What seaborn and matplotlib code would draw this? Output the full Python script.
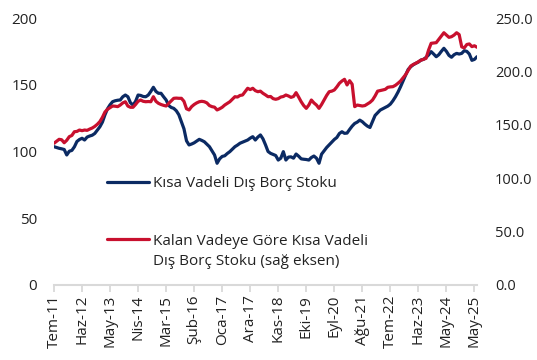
import numpy as np
import pandas as pd
import matplotlib
matplotlib.use("Agg")
import matplotlib.pyplot as plt
from matplotlib.legend_handler import HandlerLine2D
import seaborn as sns

# ---- data (monthly, Tem-11 .. May-25) ----
short_term_stock = [
    103.6, 103.0, 102.4, 102.0, 101.5, 97.4, 100.2, 100.8, 103.5, 107.5,
    109.0, 109.9, 108.6, 110.8, 111.6, 112.2, 113.5, 116.0, 118.5, 122.0,
    127.5, 132.0, 135.0, 137.3, 138.0, 138.4, 138.6, 141.0, 142.3, 141.0,
    136.5, 134.8, 137.5, 142.3, 142.0, 141.2, 141.0, 142.3, 145.0, 148.1,
    145.0, 143.6, 143.6, 141.0, 138.6, 134.5, 133.0, 132.3, 130.5, 127.5,
    122.3, 117.0, 108.0, 104.9, 105.6, 106.5, 107.8, 109.1, 108.3, 107.3,
    105.5, 103.6, 100.5, 97.4, 91.2, 94.5, 96.3, 96.8, 98.5, 99.9,
    101.8, 103.6, 104.8, 106.2, 107.0, 107.8, 108.6, 110.0, 111.1, 108.6,
    110.8, 112.4, 109.5, 105.0, 100.0, 98.6, 97.8, 97.0, 93.6, 95.0,
    99.9, 93.6, 95.8, 96.0, 95.0, 98.1, 96.5, 94.5, 94.2, 94.0,
    93.6, 95.5, 96.6, 95.0, 91.2, 98.0, 100.5, 103.0, 105.0, 107.0,
    109.0, 110.5, 113.5, 114.8, 113.6, 113.8, 116.5, 119.0, 121.0, 122.0,
    123.5, 122.3, 120.5, 119.0, 118.0, 122.5, 127.0, 129.0, 131.0, 132.0,
    133.0, 134.0, 135.5, 138.0, 141.0, 144.5, 148.5, 153.0, 157.3, 161.5,
    163.5, 165.0, 166.1, 167.0, 168.5, 169.0, 170.5, 172.3, 174.8, 173.0,
    171.0, 172.5, 175.0, 177.3, 175.0, 172.0, 170.6, 172.5, 173.5, 173.0,
    173.5, 175.5, 175.0, 173.0, 168.3, 169.0, 171.0,
]
remaining_maturity_stock = [
    132.7, 134.5, 136.4, 136.0, 133.2, 135.5, 138.9, 140.0, 143.5, 143.8,
    145.1, 144.5, 145.1, 144.8, 146.0, 147.0, 148.5, 150.5, 153.0, 157.0,
    162.0, 164.5, 166.0, 167.6, 167.4, 167.0, 168.5, 170.5, 171.6, 167.5,
    166.4, 166.4, 169.0, 172.0, 173.2, 172.0, 171.6, 171.8, 171.6, 176.3,
    172.0, 170.1, 169.0, 168.2, 167.6, 170.0, 172.5, 174.8, 175.0, 174.8,
    174.8, 172.0, 165.0, 163.9, 167.0, 169.0, 170.5, 171.6, 172.0, 171.6,
    170.5, 168.0, 167.0, 166.5, 163.9, 165.0, 166.4, 168.5, 170.0, 171.6,
    174.0, 176.3, 176.0, 177.5, 177.9, 181.0, 184.2, 183.0, 184.2, 182.0,
    181.0, 181.5, 179.5, 178.0, 176.3, 176.5, 174.5, 173.9, 174.5, 176.0,
    176.5, 177.9, 177.0, 175.7, 176.5, 180.1, 176.0, 171.6, 168.0, 165.4,
    168.5, 173.2, 170.5, 168.5, 165.4, 169.0, 173.2, 177.5, 181.0, 181.5,
    182.6, 185.5, 188.9, 191.0, 192.6, 187.3, 191.3, 188.0, 167.0, 168.5,
    168.0, 167.6, 168.0, 169.5, 171.0, 173.2, 177.0, 181.5, 182.0, 182.6,
    183.2, 185.1, 185.5, 185.7, 187.0, 188.9, 191.0, 194.0, 197.0, 201.0,
    205.0, 206.5, 207.6, 209.1, 210.5, 211.3, 212.2, 220.0, 226.3, 226.6,
    226.9, 230.0, 233.1, 236.2, 234.0, 231.9, 232.5, 234.0, 236.2, 234.5,
    223.0, 222.0, 225.2, 225.7, 223.2, 224.0, 222.6,
]
tick_labels = ["Tem-11", "Haz-12", "May-13", "Nis-14", "Mar-15", "Şub-16",
               "Oca-17", "Ara-17", "Kas-18", "Eki-19", "Eyl-20", "Ağu-21",
               "Tem-22", "Haz-23", "May-24", "May-25"]
label_blue = "Kısa Vadeli Dış Borç Stoku"
label_red = "Kalan Vadeye Göre Kısa Vadeli\nDış Borç Stoku (sağ eksen)"

BLUE = "#0B2A63"
RED = "#C8102E"
TXT = "#222222"


class FirstLineHandler(HandlerLine2D):
    """Legend line aligned with the first line of a two-line label."""
    def __init__(self, shift=0.0, **kw):
        super().__init__(**kw)
        self.shift = shift

    def create_artists(self, legend, orig_handle, xdescent, ydescent,
                       width, height, fontsize, trans):
        arts = super().create_artists(legend, orig_handle, xdescent, ydescent,
                                      width, height, fontsize, trans)
        for a in arts:
            yd = np.asarray(a.get_ydata(), dtype=float)
            a.set_ydata(yd + self.shift)
        return arts


sns.set_theme(style="white")
plt.rcParams["font.family"] = ["Open Sans", "DejaVu Sans"]

df = pd.DataFrame({
    "t": np.arange(len(short_term_stock)),
    "blue": short_term_stock,
    "red": remaining_maturity_stock,
})

fig = plt.figure(figsize=(5.37, 3.60), dpi=100)
ax = fig.add_axes([54 / 537, 75 / 360, 423 / 537, 267 / 360])
ax2 = ax.twinx()

sns.lineplot(data=df, x="t", y="blue", ax=ax, color=BLUE, linewidth=2.3,
             label=label_blue, legend=False)
sns.lineplot(data=df, x="t", y="red", ax=ax2, color=RED, linewidth=2.3,
             label=label_red, legend=False)

n = len(short_term_stock)
ax.set_xlim(0, n - 1)
ax.set_ylim(0, 200)
ax2.set_ylim(0, 250)
ax.set_yticks([0, 50, 100, 150, 200])
ax2.set_yticks([0, 50, 100, 150, 200, 250])
ax2.set_yticklabels([f"{v:.1f}" for v in [0, 50, 100, 150, 200, 250]])
ax.set_xticks(np.arange(0, 11 * len(tick_labels), 11))
ax.set_xticklabels(tick_labels, rotation=90)

for a in (ax, ax2):
    a.set_xlabel("")
    a.set_ylabel("")
    a.grid(False)
    for s in a.spines.values():
        s.set_visible(False)
ax.spines["bottom"].set_visible(True)
ax.spines["bottom"].set_color("#D9D9D9")
ax.spines["bottom"].set_linewidth(1.5)

ax.tick_params(axis="x", which="both", bottom=True, length=5, width=1.3,
               color="#D9D9D9", labelsize=11, labelcolor=TXT, pad=2)
ax.tick_params(axis="y", left=False, length=0, labelsize=11,
               labelcolor=TXT, pad=12)
ax2.tick_params(axis="y", right=False, length=0, labelsize=10.5,
                labelcolor=TXT, pad=13)
ax2.tick_params(axis="x", bottom=False, top=False)

h1, l1 = ax.get_legend_handles_labels()
h2, l2 = ax2.get_legend_handles_labels()
leg1 = ax2.legend(h1, l1, loc="upper left", bbox_to_anchor=(0.11, 0.43),
                  frameon=False, fontsize=11, handlelength=2.75,
                  handletextpad=0.3, borderaxespad=0)
for t in leg1.get_texts():
    t.set_color(TXT)
ax2.add_artist(leg1)
leg2 = ax2.legend(h2, l2, loc="upper left", bbox_to_anchor=(0.11, 0.215),
                  frameon=False, fontsize=11, handlelength=2.75,
                  handletextpad=0.3, borderaxespad=0,
                  handler_map={h2[0]: FirstLineHandler(shift=8.7)})
for t in leg2.get_texts():
    t.set_color(TXT)
    t.set_linespacing(1.45)

fig.savefig("out.png", dpi=100)
